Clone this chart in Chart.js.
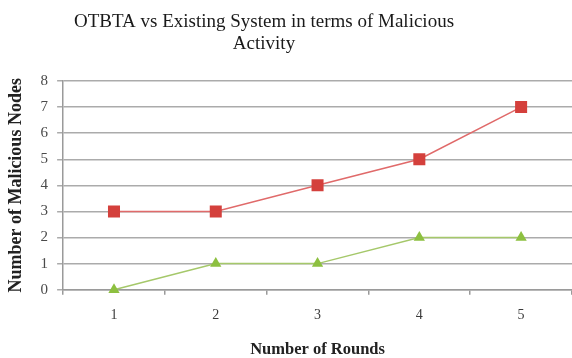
<!DOCTYPE html>
<html>
<head>
<meta charset="utf-8">
<script src="https://cdn.jsdelivr.net/npm/chart.js@4/dist/chart.umd.min.js"></script>
<style>
  html, body { margin: 0; padding: 0; background: #fff; }
  #wrap { width: 572px; height: 358px; }
</style>
</head>
<body>
<div id="wrap"><canvas id="c" width="572" height="358"></canvas></div>
<script>
// Rounds on the x axis
const rounds = ['1', '2', '3', '4', '5'];
// Malicious nodes detected per round
const existingSystem = [3, 3, 4, 5, 7];
const otbta = [0, 1, 1, 2, 2];
// Y axis range
const yTicks = [0, 1, 2, 3, 4, 5, 6, 7, 8];
// Chart heading, two lines
const titleLines = ['OTBTA vs Existing System in terms of Malicious', 'Activity'];

const serif = '"Liberation Serif", "Times New Roman", serif';

// Heading drawn slightly left of the canvas centre, over the plot
const headingPlugin = {
  id: 'heading',
  afterDraw(chart) {
    const ctx = chart.ctx;
    ctx.save();
    ctx.fillStyle = '#1a1a1a';
    ctx.font = '19px ' + serif;
    ctx.textAlign = 'center';
    ctx.textBaseline = 'middle';
    titleLines.forEach((line, i) => ctx.fillText(line, 264, 22 + i * 22));
    ctx.restore();
  }
};

new Chart(document.getElementById('c'), {
  type: 'line',
  data: {
    labels: rounds,
    datasets: [
      {
        label: 'Existing System',
        data: existingSystem,
        borderColor: '#E06A6A',
        backgroundColor: '#D4403C',
        borderWidth: 1.5,
        pointStyle: 'rect',
        pointRadius: 8.5,
        pointBorderWidth: 0,
        tension: 0
      },
      {
        label: 'OTBTA',
        data: otbta,
        borderColor: '#A5C86A',
        backgroundColor: '#8DC040',
        borderWidth: 1.5,
        pointStyle: 'triangle',
        pointRadius: 6.5,
        pointBorderWidth: 0,
        tension: 0,
        clip: false
      }
    ]
  },
  plugins: [headingPlugin],
  options: {
    responsive: false,
    animation: false,
    devicePixelRatio: 1,
    layout: { autoPadding: false, padding: { top: 81, right: 0, bottom: 0, left: 6 } },
    plugins: {
      legend: { display: false },
      tooltip: { enabled: false },
      title: { display: false }
    },
    scales: {
      x: {
        offset: true,
        grid: {
          display: true,
          drawOnChartArea: false,
          drawTicks: true,
          offset: true,
          tickLength: 5,
          color: '#9a9a9a',
          lineWidth: 1.5
        },
        border: { display: true, color: '#9a9a9a', width: 1.5 },
        ticks: {
          color: '#3a3a3a',
          font: { family: serif, size: 14 },
          padding: 12
        },
        title: {
          display: true,
          text: 'Number of Rounds',
          color: '#222',
          font: { family: serif, size: 16.5, weight: 'bold', lineHeight: 1 },
          padding: { top: 6, bottom: 0 }
        }
      },
      y: {
        min: 0,
        max: 8,
        afterBuildTicks: (axis) => { axis.ticks = yTicks.map(v => ({ value: v })); },
        grid: {
          color: '#ababab',
          lineWidth: 1.5,
          tickLength: 6,
          drawTicks: true
        },
        border: { display: true, color: '#9a9a9a', width: 1.5 },
        ticks: {
          color: '#4a4a4a',
          font: { family: serif, size: 15 },
          padding: 9
        },
        title: {
          display: true,
          text: 'Number of Malicious Nodes',
          color: '#222',
          font: { family: serif, size: 18, weight: 'bold' },
          padding: { top: 0, bottom: 4 }
        }
      }
    }
  }
});
</script>
</body>
</html>
